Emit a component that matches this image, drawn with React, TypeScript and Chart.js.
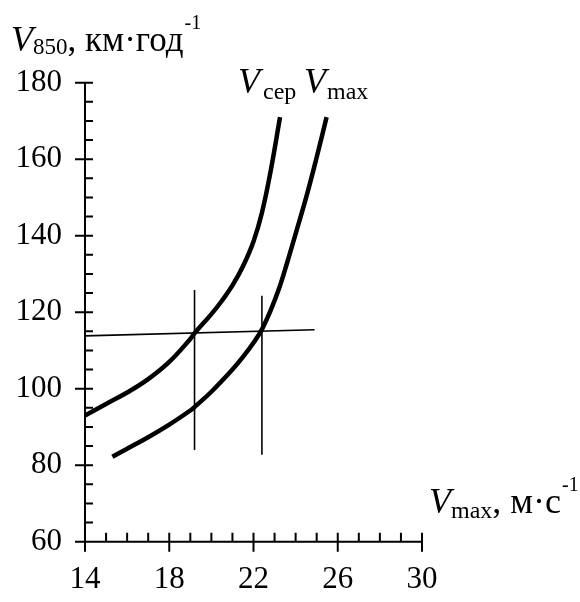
import React, { useEffect, useRef } from "react";
import { Chart, registerables } from "chart.js";

Chart.register(...registerables);

// ---- data ----
const xTickValues = [14, 18, 22, 26, 30];
const yTickValues = [60, 80, 100, 120, 140, 160, 180];

const vCepX = [14, 15, 16, 17, 18, 19, 19.2, 20, 20.5, 21, 21.5, 22, 22.4, 22.8, 23.26];
const vCepY = [93, 96, 99, 102.5, 107, 113, 114.5, 119.5, 123, 127, 132, 138.5, 146, 156.5, 171];

const vMaxX = [15.3, 16, 17, 18, 19, 19.2, 20, 21, 21.5, 22, 22.4, 22.8, 23.2, 23.6, 24, 24.5, 25, 25.47];
const vMaxY = [82.2, 84.3, 87.3, 90.6, 94.3, 95.2, 99.2, 105, 108.3, 112, 115.5, 120.3, 126, 133, 140.5, 150, 160.5, 171];

const hLineX = [14, 24.9];
const hLineY = [113.8, 115.4];

const vLine1X = [19.2, 19.2];
const vLine1Y = [84, 125.8];
const vLine2X = [22.4, 22.4];
const vLine2Y = [82.7, 124.3];

const FONT = "'Liberation Serif', 'Times New Roman', serif";

const toPts = (xs: number[], ys: number[]) => xs.map((x, i) => ({ x, y: ys[i] }));

type Part = { text: string; font: string; dy?: number; gap?: number };

function drawRich(ctx: CanvasRenderingContext2D, parts: Part[], x: number, y: number) {
  let cx = x;
  for (const p of parts) {
    ctx.font = p.font;
    cx += p.gap || 0;
    ctx.fillText(p.text, cx, y + (p.dy || 0));
    cx += ctx.measureText(p.text).width;
  }
}

const decorPlugin = {
  id: "decor",
  afterDraw(chart: any) {
    const ctx: CanvasRenderingContext2D = chart.ctx;
    const xs = chart.scales.x;
    const ys = chart.scales.y;
    const x0 = xs.getPixelForValue(14);
    const x1 = xs.getPixelForValue(30);
    const y0 = ys.getPixelForValue(60);
    const y1 = ys.getPixelForValue(180);
    ctx.save();
    ctx.strokeStyle = "#000";
    ctx.lineWidth = 2;
    ctx.lineCap = "butt";
    ctx.beginPath();
    ctx.moveTo(x0, y1);
    ctx.lineTo(x0, y0);
    ctx.moveTo(x0, y0);
    ctx.lineTo(x1, y0);
    // y ticks
    for (let v = 60; v <= 180; v += 5) {
      const py = ys.getPixelForValue(v);
      const major = v % 20 === 0;
      ctx.moveTo(major ? x0 - 10 : x0, py);
      ctx.lineTo(x0 + 8, py);
    }
    // x ticks
    for (let v = 14; v <= 30; v += 1) {
      const px = xs.getPixelForValue(v);
      const major = (v - 14) % 4 === 0;
      ctx.moveTo(px, y0 - 9);
      ctx.lineTo(px, major ? y0 + 10 : y0);
    }
    ctx.stroke();

    ctx.fillStyle = "#000";
    ctx.textBaseline = "alphabetic";
    ctx.textAlign = "left";
    // y-axis title
    drawRich(
      ctx,
      [
        { text: "V", font: `italic 36px ${FONT}` },
        { text: "850", font: `23px ${FONT}`, dy: 3 },
        { text: ", км·год", font: `35px ${FONT}` },
        { text: "-1", font: `20px ${FONT}`, dy: -22, gap: 1 },
      ],
      11,
      50.5
    );
    // curve labels
    drawRich(
      ctx,
      [
        { text: "V", font: `italic 36px ${FONT}` },
        { text: "cep", font: `24px ${FONT}`, dy: 6, gap: 3 },
      ],
      238,
      93
    );
    drawRich(
      ctx,
      [
        { text: "V", font: `italic 36px ${FONT}` },
        { text: "max", font: `24px ${FONT}`, dy: 6, gap: 1 },
      ],
      304,
      93
    );
    // x-axis title
    drawRich(
      ctx,
      [
        { text: "V", font: `italic 36px ${FONT}` },
        { text: "max", font: `24px ${FONT}`, dy: 5 },
        { text: ", м·с", font: `36px ${FONT}` },
        { text: "-1", font: `20px ${FONT}`, dy: -22, gap: 1 },
      ],
      429,
      513
    );
    ctx.restore();
  },
};

export default function App() {
  const ref = useRef<HTMLCanvasElement | null>(null);
  useEffect(() => {
    if (!ref.current) return;
    const thick = { borderColor: "#000", borderWidth: 4.5, pointRadius: 0, showLine: true, tension: 0.4, clip: false as any };
    const thin = { borderColor: "#000", borderWidth: 1.6, pointRadius: 0, showLine: true, clip: false as any };
    const chart = new Chart(ref.current, {
      type: "scatter",
      data: {
        datasets: [
          { label: "Vcep", data: toPts(vCepX, vCepY), ...thick },
          { label: "Vmax", data: toPts(vMaxX, vMaxY), ...thick },
          { label: "h", data: toPts(hLineX, hLineY), ...thin },
          { label: "v1", data: toPts(vLine1X, vLine1Y), ...thin },
          { label: "v2", data: toPts(vLine2X, vLine2Y), ...thin },
        ],
      },
      options: {
        animation: false,
        responsive: false,
        layout: { padding: { left: 0, right: 158, top: 82.7, bottom: 0 } },
        plugins: { legend: { display: false }, tooltip: { enabled: false } },
        scales: {
          x: {
            type: "linear",
            min: 14,
            max: 30,
            afterBuildTicks: (s: any) => {
              s.ticks = xTickValues.map((v) => ({ value: v }));
            },
            afterFit: (s: any) => {
              s.height = 60.3;
            },
            grid: { display: false, drawTicks: false },
            border: { display: false },
            ticks: { font: { family: FONT, size: 31 }, color: "#000", padding: 20, maxRotation: 0, autoSkip: false },
          },
          y: {
            type: "linear",
            min: 60,
            max: 180,
            afterBuildTicks: (s: any) => {
              s.ticks = yTickValues.map((v) => ({ value: v }));
            },
            afterFit: (s: any) => {
              s.width = 85;
            },
            grid: { display: false, drawTicks: false },
            border: { display: false },
            ticks: { font: { family: FONT, size: 31 }, color: "#000", padding: 23, autoSkip: false },
          },
        },
      },
      plugins: [decorPlugin],
    });
    return () => chart.destroy();
  }, []);
  return (
    <div style={{ position: "absolute", left: 0, top: 0, width: 580, height: 602, background: "#fff" }}>
      <canvas ref={ref} width={580} height={602} style={{ display: "block", width: 580, height: 602 }} />
    </div>
  );
}
